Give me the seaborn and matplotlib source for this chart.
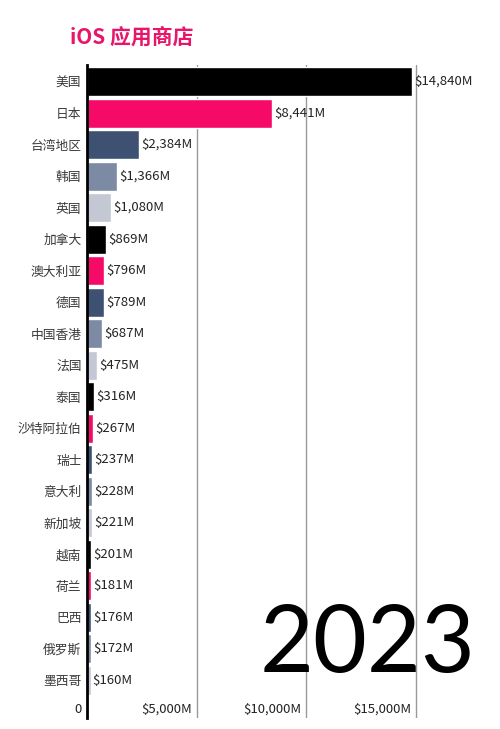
import matplotlib
matplotlib.use("Agg")
import matplotlib.pyplot as plt
import matplotlib.transforms as mtransforms
import seaborn as sns
import pandas as pd

countries = ["美国", "日本", "台湾地区", "韩国", "英国", "加拿大", "澳大利亚", "德国", "中国香港", "法国",
             "泰国", "沙特阿拉伯", "瑞士", "意大利", "新加坡", "越南", "荷兰", "巴西", "俄罗斯", "墨西哥"]
revenue = [14840, 8441, 2384, 1366, 1080, 869, 796, 789, 687, 475,
           316, 267, 237, 228, 221, 201, 181, 176, 172, 160]
cycle_colors = ["#000000", "#f50a68", "#3f5173", "#7c8aa3", "#c4c8d5"]
tick_values = [0, 5000, 10000, 15000]
tick_labels = ["0", "$5,000M", "$10,000M", "$15,000M"]
title = "iOS 应用商店"
year = "2023"

sns.set_theme(style="white")
plt.rcParams['font.family'] = ['Noto Sans CJK SC', 'DejaVu Sans']

df = pd.DataFrame({"country": countries, "revenue": revenue})
palette = {c: cycle_colors[i % len(cycle_colors)] for i, c in enumerate(countries)}

fig = plt.figure(figsize=(5, 7.29), dpi=100)
ax = fig.add_axes([0.174, 0.015, 0.75, 0.896])

sns.barplot(data=df, x="revenue", y="country", hue="country", palette=palette,
            legend=False, width=0.92, saturation=1, ax=ax)

for cont in ax.containers:
    ax.bar_label(cont, fmt="${:,.0f}M", padding=1.5, fontsize=9.5, color="#222222")

ax.set_xlim(0, 17100)
ax.set_ylim(20.2, -0.53)
ax.set_xlabel("")
ax.set_ylabel("")

ax.set_xticks(tick_values)
ax.set_xticklabels(tick_labels)
ax.grid(axis="x", color="#999999", linewidth=1)
ax.grid(axis="y", visible=False)
ax.set_axisbelow(True)
for s in ["top", "right", "bottom"]:
    ax.spines[s].set_visible(False)
ax.spines["left"].set_color("#000000")
ax.spines["left"].set_linewidth(2)

ax.tick_params(axis="x", bottom=False, length=0, pad=-11, labelsize=9.5, labelcolor="#222222")
offset = mtransforms.ScaledTranslation(-5 / 100, 0, fig.dpi_scale_trans)
for lab in ax.get_xticklabels():
    lab.set_horizontalalignment("right")
    lab.set_transform(lab.get_transform() + offset)
ax.tick_params(axis="y", left=False, length=0, labelsize=9.2, labelcolor="#3a3a3a", pad=4)

fig.text(0.14, 0.949, title, color="#e8166a", fontsize=15, fontweight="bold",
         ha="left", va="center")
fig.text(0.952, 0.078, year, family=["Lato", "DejaVu Sans"], fontweight="normal",
         fontsize=67, color="#000000", ha="right", va="baseline")

fig.savefig("out.png", dpi=100)
